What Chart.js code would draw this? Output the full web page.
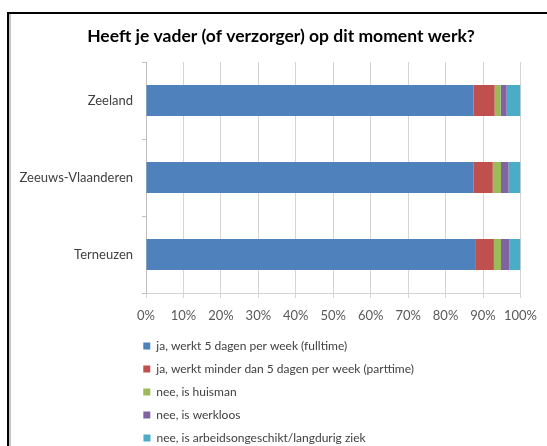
<!DOCTYPE html>
<html>
<head>
<meta charset="utf-8">
<script src="https://cdn.jsdelivr.net/npm/chart.js@4/dist/chart.umd.min.js"></script>
<style>
  html, body { margin: 0; padding: 0; background: #fff; overflow: hidden; width: 547px; height: 446px; }
  #frame { position: absolute; left: 7px; top: 12px; width: 620px; height: 520px;
           border-left: 2px solid #000; border-top: 2px solid #000; background: #fff;
           box-shadow: inset 2px 0 0 #c4c4c4; }
  #wrap { position: absolute; left: 0; top: 0; width: 547px; height: 454px; }
</style>
</head>
<body>
<div id="frame"></div>
<div id="wrap"><canvas id="c" width="547" height="454"></canvas></div>
<script>
const titleText = 'Heeft je vader (of verzorger) op dit moment werk?';
const categories = ['Zeeland', 'Zeeuws-Vlaanderen', 'Terneuzen'];
const seriesNames = [
  'ja, werkt 5 dagen per week (fulltime)',
  'ja, werkt minder dan 5 dagen per week (parttime)',
  'nee, is huisman',
  'nee, is werkloos',
  'nee, is arbeidsongeschikt/langdurig ziek'
];
const fulltime  = [87.5, 87.4, 88.1];
const parttime  = [5.6, 5.2, 4.8];
const huisman   = [1.6, 2.2, 1.9];
const werkloos  = [1.6, 2.0, 2.2];
const ziek      = [3.7, 3.2, 3.0];
const xTickLabels = ['0%','10%','20%','30%','40%','50%','60%','70%','80%','90%','100%'];
const colors = ['#4F81BD', '#C0504D', '#9BBB59', '#8064A2', '#4BACC6'];

const seriesValues = [fulltime, parttime, huisman, werkloos, ziek];
const LEGEND_TEXT_W = 356;

// let the category labels extend left of the axis box without being clipped
const unclipYLabels = {
  id: 'unclipYLabels',
  afterLayout(ch) { if (ch.scales.y) ch.scales.y.left = 0; }
};

const chart = new Chart(document.getElementById('c'), {
  type: 'bar',
  data: {
    labels: categories,
    datasets: seriesValues.map((vals, i) => ({
      label: seriesNames[i],
      data: vals,
      backgroundColor: colors[i],
      borderWidth: 0,
      barPercentage: 0.4,
      categoryPercentage: 1.0
    }))
  },
  plugins: [unclipYLabels],
  options: {
    indexAxis: 'y',
    responsive: false,
    animation: false,
    layout: { padding: { left: 38, right: 23, top: 0, bottom: 0 } },
    scales: {
      x: {
        stacked: true,
        min: 0, max: 100,
        ticks: {
          stepSize: 10,
          padding: 10,
          maxRotation: 0,
          minRotation: 0,
          autoSkip: false,
          color: '#595959',
          font: { family: 'Lato', size: 13 },
          callback: (v, i) => xTickLabels[i]
        },
        grid: { color: '#d4d4d4', tickLength: 5, lineWidth: 1 },
        border: { color: '#d4d4d4' },
        afterFit: (s) => { s.height = 36; }
      },
      y: {
        stacked: true,
        ticks: {
          padding: 9,
          color: '#404040',
          font: { family: 'Lato', size: 13 }
        },
        grid: { drawOnChartArea: false, color: '#bfbfbf', tickLength: 4 },
        border: { color: '#bfbfbf' },
        afterFit: (s) => { s.width = 108; }
      }
    },
    plugins: {
      title: {
        display: true,
        text: titleText,
        color: '#000',
        font: { family: 'Lato', size: 17.5, weight: 'bold' },
        padding: { top: 25.5, bottom: 15.5 }
      },
      tooltip: { enabled: false },
      legend: {
        position: 'bottom',
        align: 'end',
        labels: {
          boxWidth: 7,
          boxHeight: 7,
          padding: 11,
          color: '#404040',
          font: { family: 'Lato', size: 12 },
          generateLabels(ch) {
            const items = Chart.defaults.plugins.legend.labels.generateLabels(ch);
            const ctx = ch.ctx;
            ctx.save();
            ctx.font = '12px Lato';
            items.forEach(it => {
              let t = it.text;
              while (ctx.measureText(t + '\u00A0').width <= LEGEND_TEXT_W) t += '\u00A0';
              while (ctx.measureText(t).width < LEGEND_TEXT_W) t += '\u200A';
              it.text = t;
            });
            ctx.restore();
            return items;
          }
        }
      }
    }
  }
});
</script>
</body>
</html>
